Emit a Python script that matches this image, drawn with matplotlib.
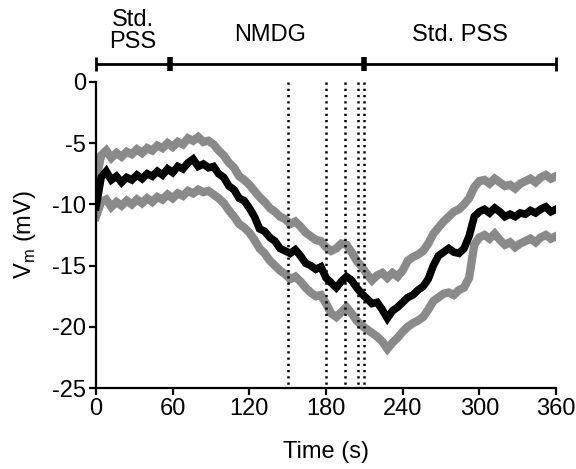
import numpy as np
import matplotlib
matplotlib.use("Agg")
from matplotlib import pyplot as plt

plt.rcParams['font.family'] = ['Liberation Sans', 'DejaVu Sans']
plt.rcParams['mathtext.fontset'] = 'custom'
plt.rcParams['mathtext.rm'] = 'Liberation Sans'
plt.rcParams['axes.unicode_minus'] = False

# time points (s), one every 4 s
time = np.arange(0, 361, 4)

# mean membrane potential (mV)
vm_mean = [-10.2, -7.8, -7.3, -8.0, -7.7, -8.2, -7.8, -8.0, -7.6, -7.9,
           -7.5, -7.7, -7.3, -7.6, -7.1, -7.4, -6.9, -7.1, -6.6, -6.3,
           -6.9, -6.7, -7.0, -6.9, -7.5, -7.8, -8.5, -8.8, -9.5, -9.7,
           -10.3, -11.0, -12.0, -12.2, -12.7, -13.0, -13.6, -13.8, -14.0, -13.7,
           -14.2, -14.8, -15.0, -15.3, -15.1, -16.0, -16.4, -16.8, -16.3, -15.9,
           -16.2, -16.8, -17.3, -17.7, -18.1, -18.0, -18.6, -19.3, -18.7, -18.4,
           -18.0, -17.6, -17.4, -17.0, -16.7, -16.1, -15.0, -14.2, -13.9, -13.6,
           -13.9, -14.0, -13.6, -12.6, -11.0, -10.6, -10.4, -10.7, -10.3, -10.6,
           -11.0, -10.8, -11.0, -10.7, -10.8, -10.5, -10.7, -10.4, -10.2, -10.6,
           -10.4]

# upper trace (mean + SEM)
vm_upper = [-8.0, -6.0, -5.6, -6.2, -5.8, -6.1, -5.7, -5.9, -5.5, -5.8,
            -5.4, -5.6, -5.2, -5.4, -5.0, -5.3, -4.9, -5.1, -4.6, -4.8,
            -4.5, -4.9, -4.8, -5.1, -5.6, -6.0, -6.6, -7.0, -7.7, -8.0,
            -8.4, -8.9, -9.4, -9.8, -10.3, -10.6, -11.0, -11.2, -11.6, -11.4,
            -11.8, -12.3, -12.6, -12.9, -13.0, -13.5, -13.8, -13.6, -13.2, -13.3,
            -13.9, -14.6, -15.1, -15.7, -16.2, -15.8, -15.6, -16.0, -15.6, -15.9,
            -15.4, -14.6, -14.3, -14.1, -13.8, -13.2, -12.4, -11.9, -11.4, -11.0,
            -10.6, -10.4, -10.0, -9.5, -8.6, -8.1, -8.0, -8.3, -7.9, -8.2,
            -8.5, -8.4, -8.7, -8.3, -8.1, -7.9, -8.2, -7.8, -7.6, -7.9,
            -7.7]

# lower trace (mean - SEM)
vm_lower = [-11.0, -9.8, -9.6, -10.2, -9.8, -10.1, -9.7, -10.0, -9.6, -9.9,
            -9.5, -9.8, -9.4, -9.6, -9.2, -9.5, -9.1, -9.3, -8.9, -9.1,
            -8.8, -9.0, -8.9, -9.2, -9.5, -9.9, -10.5, -11.0, -11.6, -11.9,
            -12.3, -12.9, -13.6, -14.0, -14.6, -15.0, -15.4, -15.7, -16.1, -15.9,
            -16.3, -16.8, -17.2, -17.5, -17.4, -18.1, -18.9, -19.2, -18.8, -18.4,
            -18.9, -19.5, -19.9, -20.2, -20.5, -20.8, -21.2, -21.8, -21.3, -20.9,
            -20.4, -20.0, -19.7, -19.5, -19.2, -18.6, -17.9, -17.6, -17.3, -17.2,
            -17.4, -17.0, -16.8, -16.0, -13.3, -12.7, -12.5, -12.8, -12.4, -12.9,
            -13.3, -13.1, -13.5, -13.2, -13.0, -12.8, -13.1, -12.7, -12.5, -12.8,
            -12.6]

# times of the dotted markers (s)
marker_times = [150, 180, 195, 205, 210]

# solution periods shown on the top bar
period_edges = [0, 58, 210, 360]
period_labels = ["Std.\nPSS", "NMDG", "Std. PSS"]
period_label_x = [29, 136, 285]
period_label_y = [4.2, 3.85, 3.85]

fig = plt.figure(figsize=(5.76, 4.69), dpi=100)
ax = fig.add_axes([0.1667, 0.1727, 0.7986, 0.6525])

ax.plot(time, vm_upper, color="#8a8a8a", lw=6, solid_joinstyle="miter")
ax.plot(time, vm_lower, color="#8a8a8a", lw=6, solid_joinstyle="miter")
ax.plot(time, vm_mean, color="black", lw=5.5, solid_joinstyle="miter")

for t in marker_times:
    ax.plot([t, t], [0, -25], color="black", lw=1.8, linestyle=(0, (0.9, 1.6)),
            clip_on=False, zorder=5)

# top bar with period labels
bar_y = 1.47
ax.plot([period_edges[0], period_edges[-1]], [bar_y, bar_y], color="black",
        lw=2, clip_on=False, solid_capstyle="butt")
for i, e in enumerate(period_edges):
    width = 2 if i in (0, len(period_edges) - 1) else 4
    ax.plot([e, e], [bar_y - 0.55, bar_y + 0.55], color="black", lw=width,
            clip_on=False, solid_capstyle="butt")
for lab, x, y in zip(period_labels, period_label_x, period_label_y):
    ax.text(x, y, lab, ha="center", va="center", fontsize=17,
            linespacing=1.0, clip_on=False)

ax.set_xlim(0, 360)
ax.set_ylim(-25, 0)
ax.set_xticks(np.arange(0, 361, 60))
ax.set_yticks([0, -5, -10, -15, -20, -25])
ax.spines["top"].set_visible(False)
ax.spines["right"].set_visible(False)
for s in ["left", "bottom"]:
    ax.spines[s].set_linewidth(1.6)
ax.tick_params(direction="out", length=5, width=1.6, labelsize=17, pad=2)
ax.set_xlabel("Time (s)", fontsize=17, labelpad=15)
ax.set_ylabel(r"V$_\mathrm{m}$ (mV)", fontsize=17, labelpad=10)

fig.savefig("out.png", dpi=100)
